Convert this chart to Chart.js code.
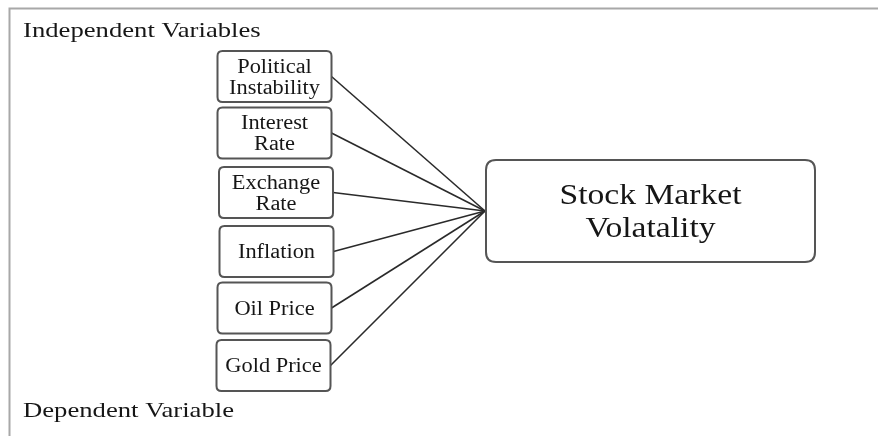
<!DOCTYPE html>
<html>
<head>
<meta charset="utf-8">
<script src="https://cdn.jsdelivr.net/npm/chart.js@4.4.0/dist/chart.umd.min.js"></script>
<style>
  html, body { margin: 0; padding: 0; background: #fff; }
  #wrap { width: 878px; height: 436px; position: relative; }
</style>
</head>
<body>
<div id="wrap"><canvas id="diagram"></canvas></div>
<script>
// Diagram content (node centres are in the 878 x 436 plane used by both scales)
const factors = [['Political', 'Instability'], ['Interest', 'Rate'], ['Exchange', 'Rate'], ['Inflation'], ['Oil Price'], ['Gold Price']];
const factorX = [274.5, 274.5, 276, 276.5, 274.5, 273.5];
const factorY = [76.5, 133, 192.5, 251.5, 308, 365.5];
const target = ['Stock Market', 'Volatality'];
const targetX = [650.5];
const targetY = [211];
const hubX = [485];
const hubY = [211];
const headings = ['Independent Variables', 'Dependent Variable'];
const headingY = [36.5, 416.5];

// styles
const BOX_W = 114, BOX_H = 51, BOX_R = 5;
const TARGET_W = 329, TARGET_H = 102, TARGET_R = 10;
const TEXT_COLOR = '#161616';
const EDGE_COLOR = '#555';
const SERIF = '"Liberation Serif", "Times New Roman", serif';

// one line dataset per factor: box right edge -> hub
const datasets = factors.map((f, i) => ({
    type: 'line',
    label: f.join(' '),
    data: [{ x: factorX[i] + BOX_W / 2, y: factorY[i] }, { x: hubX[0], y: hubY[0] }],
    borderColor: '#2a2a2a',
    borderWidth: 1.6,
    pointRadius: 0,
    fill: false,
    tension: 0,
}));

function roundBox(ctx, x, y, w, h, r) {
    ctx.beginPath();
    ctx.moveTo(x + r, y);
    ctx.lineTo(x + w - r, y);
    ctx.quadraticCurveTo(x + w, y, x + w, y + r);
    ctx.lineTo(x + w, y + h - r);
    ctx.quadraticCurveTo(x + w, y + h, x + w - r, y + h);
    ctx.lineTo(x + r, y + h);
    ctx.quadraticCurveTo(x, y + h, x, y + h - r);
    ctx.lineTo(x, y + r);
    ctx.quadraticCurveTo(x, y, x + r, y);
    ctx.closePath();
}

// text with a little horizontal stretch (the source face is wider than Times)
function stretchText(ctx, str, x, y, size, stretch, align) {
    ctx.save();
    ctx.font = size + 'px ' + SERIF;
    ctx.textAlign = align;
    ctx.textBaseline = align === 'left' ? 'alphabetic' : 'middle';
    ctx.translate(x, y);
    ctx.scale(stretch, 1);
    ctx.fillText(str, 0, 0);
    ctx.restore();
}

const diagramPlugin = {
    id: 'diagram',
    beforeDatasetsDraw(chart) {
        const { ctx, scales: { x, y } } = chart;
        // frame: top and left rules only
        ctx.save();
        ctx.strokeStyle = '#a8a8a8';
        ctx.lineWidth = 2;
        ctx.beginPath();
        ctx.moveTo(x.getPixelForValue(878), y.getPixelForValue(8.5));
        ctx.lineTo(x.getPixelForValue(9.5), y.getPixelForValue(8.5));
        ctx.lineTo(x.getPixelForValue(9.5), y.getPixelForValue(436));
        ctx.stroke();
        ctx.restore();
    },
    afterDatasetsDraw(chart) {
        const { ctx, scales: { x, y } } = chart;
        ctx.save();
        ctx.fillStyle = TEXT_COLOR;
        headings.forEach((h, i) => {
            stretchText(ctx, h, x.getPixelForValue(23), y.getPixelForValue(headingY[i]), 21, 1.27, 'left');
        });

        // factor boxes
        factors.forEach((lines, i) => {
            const cx = x.getPixelForValue(factorX[i]);
            const cy = y.getPixelForValue(factorY[i]);
            ctx.fillStyle = '#fff';
            ctx.strokeStyle = EDGE_COLOR;
            ctx.lineWidth = 2;
            roundBox(ctx, cx - BOX_W / 2, cy - BOX_H / 2, BOX_W, BOX_H, BOX_R);
            ctx.fill();
            ctx.stroke();
            ctx.fillStyle = TEXT_COLOR;
            const step = 21;
            lines.forEach((t, k) => {
                const off = (k - (lines.length - 1) / 2) * step + 1.5;
                stretchText(ctx, t, cx, cy + off, 20, 1.12, 'center');
            });
        });

        // dependent variable box
        const tx = x.getPixelForValue(targetX[0]);
        const ty = y.getPixelForValue(targetY[0]);
        ctx.fillStyle = '#fff';
        ctx.strokeStyle = EDGE_COLOR;
        ctx.lineWidth = 2;
        roundBox(ctx, tx - TARGET_W / 2, ty - TARGET_H / 2, TARGET_W, TARGET_H, TARGET_R);
        ctx.fill();
        ctx.stroke();
        ctx.fillStyle = TEXT_COLOR;
        target.forEach((t, k) => {
            const off = (k - (target.length - 1) / 2) * 33 + 2;
            stretchText(ctx, t, tx, ty + off, 30, 1.12, 'center');
        });
        ctx.restore();
    }
};

new Chart(document.getElementById('diagram'), {
    type: 'line',
    data: { datasets: datasets },
    options: {
        responsive: true,
        maintainAspectRatio: false,
        animation: false,
        layout: { padding: 0 },
        plugins: { legend: { display: false }, tooltip: { enabled: false } },
        scales: {
            x: { type: 'linear', min: 0, max: 878, display: false },
            y: { type: 'linear', min: 0, max: 436, reverse: true, display: false },
        },
    },
    plugins: [diagramPlugin],
});
</script>
</body>
</html>
